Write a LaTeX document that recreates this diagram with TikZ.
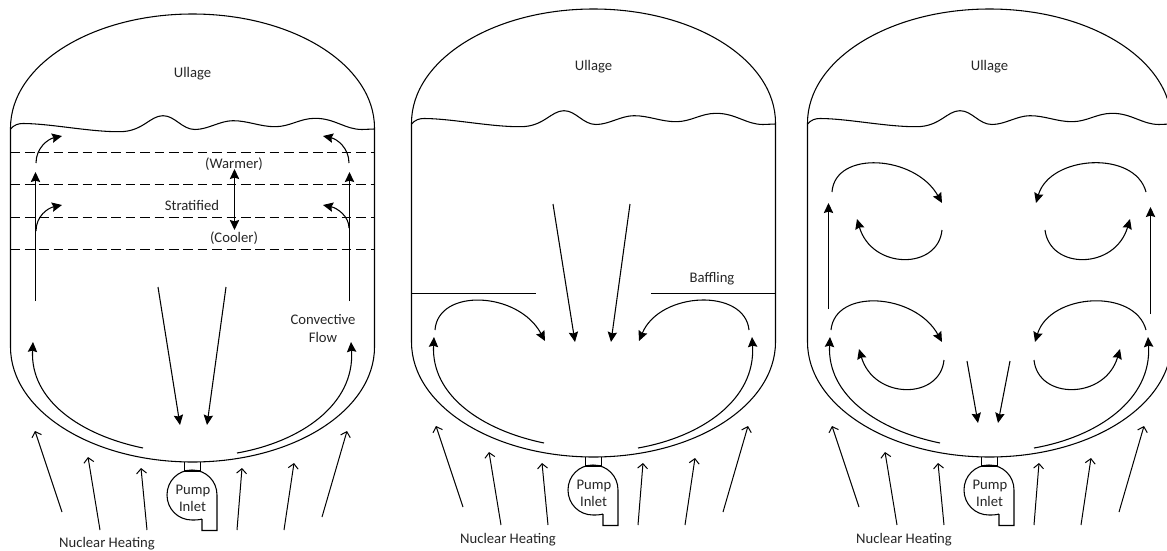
\documentclass[tikz,border=0pt]{standalone}
\usepackage{fontspec}
\setmainfont{Carlito}
\usetikzlibrary{arrows.meta}
\tikzset{
  line/.style={line width=0.8pt,line cap=butt},
  flow/.style={line,-{Stealth[length=7.5pt,width=7pt,inset=1pt]}},
  heat/.style={line width=0.75pt,-{Straight Barb[length=3.6pt,width=7.5pt]}},
  lab/.style={font=\fontsize{11pt}{12pt}\selectfont,inner sep=0pt,text=black!85},
  strat/.style={line,dash pattern=on 7.2pt off 3.6pt},
}
\newcommand{\tankbase}[3]{%
  \draw[line] (10.5,128) .. controls (10.5,65) and (91.7,14) .. (192.5,14)
    .. controls (293.3,14) and (374.5,65) .. (374.5,128) -- (374.5,347)
    .. controls (374.5,410.5) and (293.3,462) .. (192.5,462)
    .. controls (91.7,462) and (10.5,410.5) .. (10.5,347) -- cycle;
  \draw[line] (10.5,129) .. controls (14,125) and (18,123.5) .. (23,123.5)
    .. controls (50,123.5) and (90,132) .. (120,131.7)
    .. controls (143,131.5) and (150,115.7) .. (163,115.7)
    .. controls (175,115.7) and (182,129.5) .. (195,129.5)
    .. controls (208,129.5) and (220,120.7) .. (233,120.7)
    .. controls (248,120.7) and (260,126.7) .. (275,126.7)
    .. controls (290,126.7) and (300,118.3) .. (315,118.3)
    .. controls (335,118.3) and (345,129.5) .. (362,129.5) -- (374.5,129);
  \node[lab] (ullage#1) at (192.5,#2) {Ullage};
  \draw[line] (184.5,462) -- (184.5,471) -- (200.5,471) -- (200.5,462);
  \draw[line] (202,519) -- (202,530.5) -- (217,530.5) -- (217,495)
    .. controls (217,481) and (206,470) .. (192,470)
    .. controls (178,470) and (167,481) .. (167,495)
    .. controls (167,509) and (178,520) .. (192,520)
    .. controls (195,520) and (199,520) .. (202,519);
  \node[lab] (pump#1) at (193,490.5) {Pump};
  \node[lab] (inlet#1) at (192.5,506) {Inlet};
  \draw[heat] (62,512) -- (35,431);
  \draw[heat] (100,530) -- (88,457);
  \draw[heat] (147,530) -- (141,468);
  \draw[heat] (237,530) -- (242,468);
  \draw[heat] (284,530) -- (294,463);
  \draw[heat] (322,517) -- (347,431);
  \node[lab] (heating#1) at (107,#3) {Nuclear Heating};
  \draw[flow] (143,448) .. controls (80,435) and (30,400) .. (33,342);
  \draw[flow] (237,453) .. controls (300,442) and (355,405) .. (351,342);
}
\begin{document}
\begin{tikzpicture}[x=0.75pt,y=-0.75pt]
\clip (0,0) rectangle (1167,550);
% Tank 1
\begin{scope}
  \tankbase{a}{74}{543.5}
  \foreach \yy in {152.5,184.5,217.5,249.5} \draw[strat] (10.5,\yy) -- (374.5,\yy);
  \draw[line,{Stealth[length=7.5pt,width=7pt,inset=1pt]}-{Stealth[length=7.5pt,width=7pt,inset=1pt]}] (234.5,169) -- (234.5,230);
  \node[lab] (warmer) at (234,164) {(Warmer)};
  \node[lab] (stratified) at (192,205) {Stratified};
  \node[lab] (cooler) at (234,238.5) {(Cooler)};
  \node[lab] (convective) at (323,319.5) {Convective};
  \node[lab] (flowlab) at (323,337) {Flow};
  \draw[flow] (158,287) -- (180,425);
  \draw[flow] (226,287) -- (207,425);
  \draw[flow] (35.5,301) -- (35.5,172);
  \draw[flow] (349.5,301) -- (349.5,172);
  \draw[flow] (36,163) .. controls (36,148) and (48,139) .. (62,136);
  \draw[flow] (349,163) .. controls (349,148) and (337,139) .. (323,136);
  \draw[flow] (36,231) .. controls (36,216) and (48,208) .. (62,205);
  \draw[flow] (349,228) .. controls (349,216) and (337,208) .. (323,205);
\end{scope}
% Tank 2
\begin{scope}[shift={(401,-5)}]
  \tankbase{b}{72}{545}
\end{scope}
\draw[line] (411.5,293.5) -- (536,293.5);
\draw[line] (651,293.5) -- (775.5,293.5);
\node[lab] (baffling) at (712,279) {Baffling};
\draw[flow] (553,204) -- (575,342);
\draw[flow] (630,204) -- (611,342);
\draw[flow] (435,330) .. controls (438,288) and (518,291) .. (545,341);
\draw[flow] (749,330) .. controls (745,288) and (660,291) .. (639,341);
% Tank 3
\begin{scope}[shift={(797,-5)}]
  \tankbase{c}{72}{545}
\end{scope}
\draw[flow] (832,192) .. controls (835,150) and (915,155) .. (942,203);
\draw[flow] (828.5,309) -- (828.5,203);
\draw[flow] (942,230) .. controls (938,270) and (872,270) .. (857,219);
\draw[flow] (1146,192) .. controls (1135,150) and (1050,155) .. (1036,203);
\draw[flow] (1150.5,314) -- (1150.5,207);
\draw[flow] (1045,230) .. controls (1050,270) and (1115,270) .. (1130,219);
\draw[flow] (831,330) .. controls (835,288) and (915,293) .. (942,342);
\draw[flow] (944,360) .. controls (940,400) and (874,400) .. (859,349);
\draw[flow] (1146,330) .. controls (1135,288) and (1050,293) .. (1035,342);
\draw[flow] (1034,360) .. controls (1038,400) and (1105,400) .. (1120,349);
\draw[flow] (967,361) -- (978,423);
\draw[flow] (1010,361) -- (998,423);
\end{tikzpicture}
\end{document}
